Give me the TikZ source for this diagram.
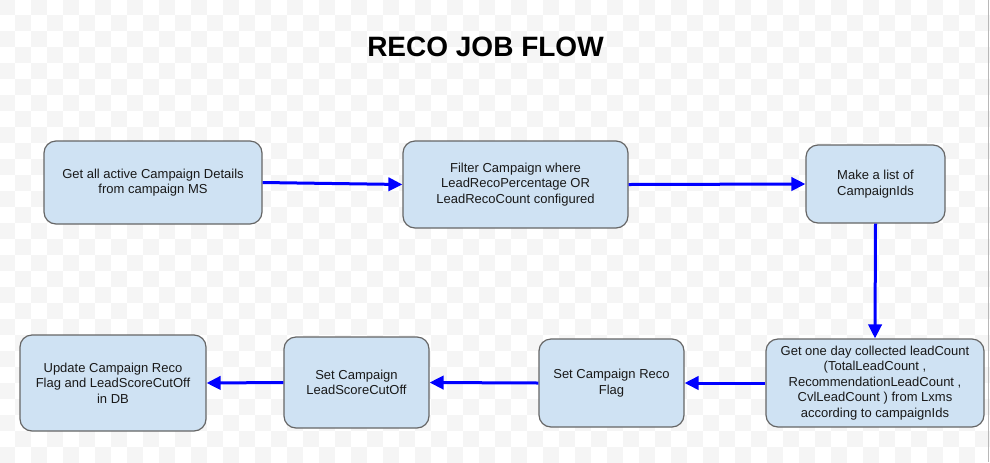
\documentclass[tikz,border=0pt]{standalone}
\usepackage{fontspec}
\setmainfont{Liberation Sans}
\usetikzlibrary{arrows.meta}
\definecolor{gridgrey}{HTML}{F5F5F5}
\definecolor{boxfill}{HTML}{CFE2F3}
\definecolor{boxline}{HTML}{666666}
\definecolor{flowblue}{HTML}{0000FF}
\definecolor{edgegrey}{HTML}{B8B8B8}
\tikzset{
  flowbox/.style={draw=boxline, line width=0.9pt, fill=boxfill, rounded corners=9pt,
    inner sep=0pt, align=center, text=black!90,
    font=\fontsize{9.75pt}{11.7pt}\selectfont},
  flowarrow/.style={draw=flowblue, line width=2.25pt,
    -{Triangle[length=10.5pt,width=10pt]}},
  titletext/.style={font=\fontsize{21pt}{25pt}\selectfont\bfseries, inner sep=0pt}
}
\begin{document}
\begin{tikzpicture}[x=0.75pt,y=-0.75pt]
\useasboundingbox (0,0) rectangle (990,462);
\begin{scope}
\clip (0,0) rectangle (990,462);
\fill[white] (0,0) rectangle (990,462);
\foreach \i in {0,...,62}{
  \foreach \j in {0,...,29}{
    \pgfmathtruncatemacro\parity{mod(\i+\j,2)}
    \ifnum\parity=0
      \fill[gridgrey] (\i*16-1,\j*16-1) rectangle ++(16,16);
    \fi
  }
}
\draw[edgegrey, line width=1.2pt] (988.5,0) -- (988.5,462);
\end{scope}

\node[titletext] (title) at (485.5,47) {RECO JOB FLOW};

\node[flowbox, minimum width=163.5pt, minimum height=62.25pt] (n1) at (153,182.5)
  {Get all active Campaign Details\\from campaign MS};
\node[flowbox, minimum width=168.75pt, minimum height=65.25pt] (n2) at (515.5,184.5)
  {Filter Campaign where\\LeadRecoPercentage OR\\LeadRecoCount configured};
\node[flowbox, minimum width=104.25pt, minimum height=58.5pt] (n3) at (875.5,184)
  {Make a list of\\CampaignIds};
\node[flowbox, minimum width=163.5pt, minimum height=66pt] (n4) at (875,383)
  {Get one day collected leadCount\\(TotalLeadCount ,\\RecommendationLeadCount ,\\CvlLeadCount ) from Lxms\\according to campaignIds};
\node[flowbox, minimum width=108.75pt, minimum height=66pt] (n5) at (611.5,383)
  {Set Campaign Reco\\Flag};
\node[flowbox, minimum width=108.75pt, minimum height=68.25pt] (n6) at (356.5,382.5)
  {Set Campaign\\LeadScoreCutOff};
\node[flowbox, minimum width=139.5pt, minimum height=72pt] (n7) at (113,383)
  {Update Campaign Reco\\Flag and LeadScoreCutOff\\in DB};

\draw[flowarrow] (n1.east) -- (n2.west);
\draw[flowarrow] (n2.east) -- (n3.west);
\draw[flowarrow] (n3.south) -- (n4.north);
\draw[flowarrow] (n4.west) -- (n5.east);
\draw[flowarrow] (n5.west) -- (n6.east);
\draw[flowarrow] (n6.west) -- (n7.east);
\end{tikzpicture}
\end{document}
